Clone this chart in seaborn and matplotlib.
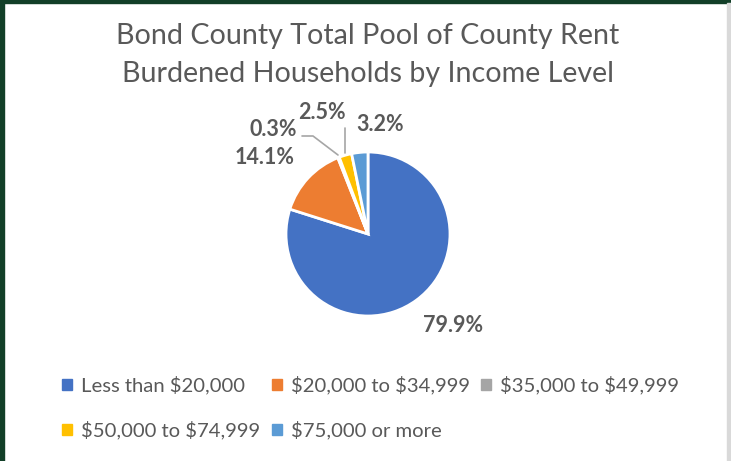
import matplotlib
matplotlib.use("Agg")
import matplotlib.pyplot as plt
from matplotlib.patches import Rectangle
import seaborn as sns

categories = ["Less than $20,000", "$20,000 to $34,999", "$35,000 to $49,999",
              "$50,000 to $74,999", "$75,000 or more"]
shares = [79.9, 14.1, 0.3, 2.5, 3.2]
pct_labels = ["79.9%", "14.1%", "0.3%", "2.5%", "3.2%"]
colors = ["#4472C4", "#ED7D31", "#A5A5A5", "#FFC000", "#5B9BD5"]

sns.set_theme(style="white")
plt.rcParams["font.family"] = ["Lato", "DejaVu Sans"]
plt.rcParams["text.parse_math"] = False

W, H = 731, 461
fig = plt.figure(figsize=(W / 100, H / 100), dpi=100)
fig.patch.set_facecolor("white")

# frame bits from the screenshot
fig.add_artist(Rectangle((0, 0), 4 / W, 1, transform=fig.transFigure, color="#123f28", zorder=0))
fig.add_artist(Rectangle((0, 1 - 3 / H), 1, 3 / H, transform=fig.transFigure, color="#123f28", zorder=0))
fig.add_artist(Rectangle((1 - 4 / W, 0), 4 / W, 1 - 3 / H, transform=fig.transFigure, color="#d9d9d9", zorder=0))

fig.text(368 / W, 1 - 36 / H, "Bond County Total Pool of County Rent", ha="center", va="center",
         fontsize=20.6, color="#595959")
fig.text(368 / W, 1 - 74 / H, "Burdened Households by Income Level", ha="center", va="center",
         fontsize=20.6, color="#595959")

cx, cy, r = 368, 234, 82
ax = fig.add_axes([(cx - r) / W, (H - cy - r) / H, 2 * r / W, 2 * r / H])
wedges, _ = ax.pie(shares, colors=colors, startangle=90, counterclock=False, radius=1,
                   wedgeprops=dict(edgecolor="white", linewidth=2))
ax.set_xlim(-1, 1)
ax.set_ylim(-1, 1)
ax.set_aspect("equal")
ax.axis("off")

# label spots (pie radius units)
label_pos = [(1.04, -1.12), (-1.26, 0.93), (-1.16, 1.28), (-0.56, 1.48), (0.15, 1.33)]
for (lx, ly), txt in zip(label_pos, pct_labels):
    ax.text(lx, ly, txt, ha="center", va="center", fontsize=15.5, fontweight="bold",
            color="#595959", clip_on=False)

# leader lines for the tiny slices
def px(x, y):
    return (x - cx) / r, (cy - y) / r

l1 = [px(302, 136), px(313, 136), px(338, 155)]
ax.plot([p[0] for p in l1], [p[1] for p in l1], color="#a6a6a6", lw=1.2, clip_on=False)
l2 = [px(345, 128), px(345, 153)]
ax.plot([p[0] for p in l2], [p[1] for p in l2], color="#a6a6a6", lw=1.2, clip_on=False)

# legend laid out row-wise: column-major ordering trick
order = [0, 3, 1, 4, 2]
handles = [Rectangle((0, 0), 1, 1, color=colors[i]) for i in order]
labels = [categories[i] for i in order]
leg = fig.legend(handles, labels, ncol=3, loc="upper left", bbox_to_anchor=(52 / W, 1 - 366 / H),
                 frameon=False, fontsize=14.6, handlelength=0.5, handleheight=0.5,
                 handletextpad=0.45, columnspacing=0.55, labelspacing=1.3, borderpad=0)
for t in leg.get_texts():
    t.set_color("#595959")

fig.savefig("out.png", dpi=100)
